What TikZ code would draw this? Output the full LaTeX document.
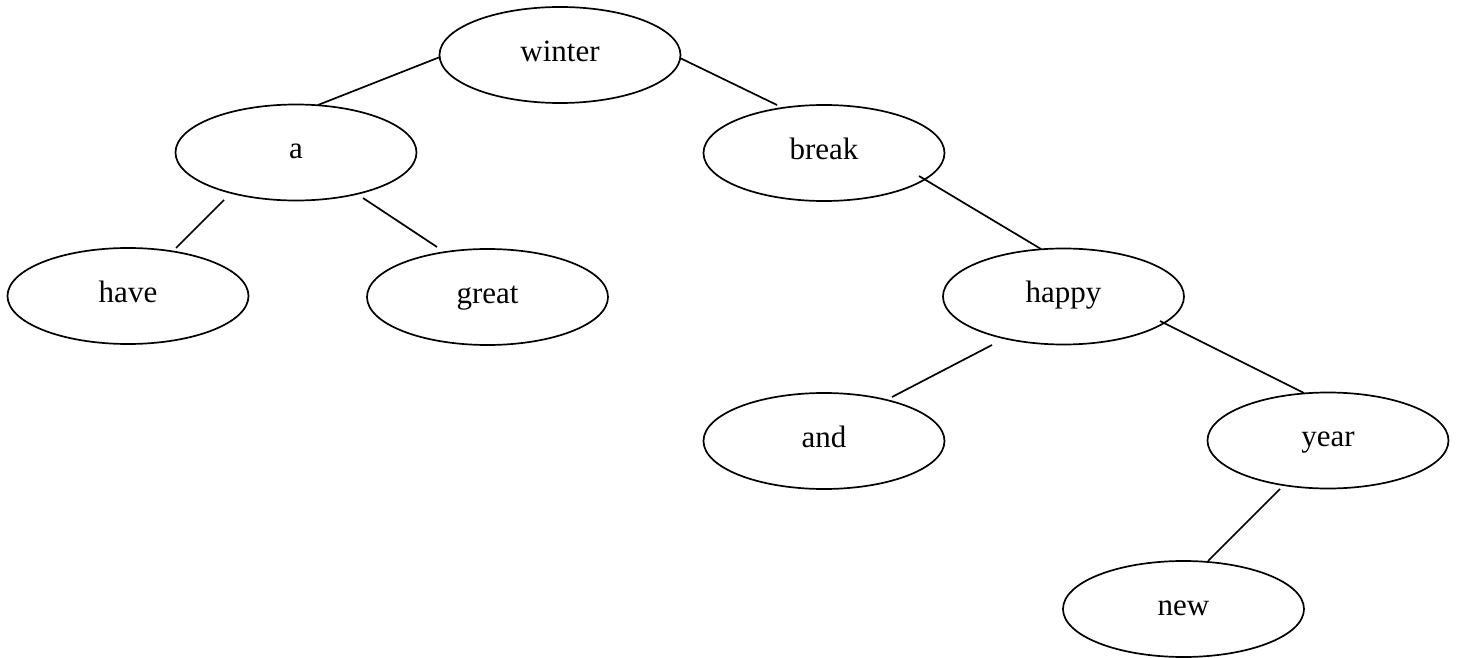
\documentclass[tikz,border=0pt]{standalone}
\usepackage{fontspec}
\setmainfont{Liberation Serif}
\usetikzlibrary{shapes.geometric}
\begin{document}
\begin{tikzpicture}[x=0.5pt,y=-0.5pt,
  word/.style={draw,ellipse,line width=0.85pt,minimum width=120.5pt,minimum height=48pt,inner sep=0pt,
    font=\fontsize{15.5pt}{18pt}\selectfont,text height=0.82em,text depth=0.18em},
  link/.style={line width=0.85pt}]
\useasboundingbox (0,0) rectangle (1458,658);
\node[word] (winter) at (560,55) {winter};
\node[word] (a) at (296,152.5) {a};
\node[word] (break) at (824,153) {break};
\node[word] (have) at (128,296) {have};
\node[word] (great) at (487.5,297) {great};
\node[word] (happy) at (1063.5,296.5) {happy};
\node[word] (and) at (824,441) {and};
\node[word] (year) at (1328,440.5) {year};
\node[word] (new) at (1183.5,609) {new};
\draw[link] ([shift={(-120,2)}]winter.center) -- ([shift={(22,-47.5)}]a.center);
\draw[link] ([shift={(120,3)}]winter.center) -- ([shift={(-47,-48)}]break.center);
\draw[link] ([shift={(-72,47.5)}]a.center) -- ([shift={(48,-48)}]have.center);
\draw[link] ([shift={(67,45.5)}]a.center) -- ([shift={(-50.5,-50)}]great.center);
\draw[link] ([shift={(95,23)}]break.center) -- ([shift={(-22.5,-47.5)}]happy.center);
\draw[link] ([shift={(-71.5,48.5)}]happy.center) -- ([shift={(68,-44)}]and.center);
\draw[link] ([shift={(96.5,24.5)}]happy.center) -- ([shift={(-24,-47.5)}]year.center);
\draw[link] ([shift={(-48,48.5)}]year.center) -- ([shift={(24.5,-48)}]new.center);
\end{tikzpicture}
\end{document}
